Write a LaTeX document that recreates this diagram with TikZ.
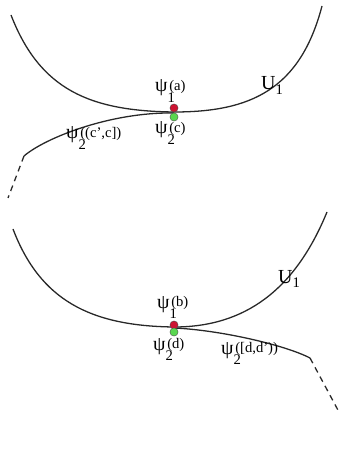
\documentclass[tikz,border=0pt]{standalone}
\usepackage{fontspec}
\setmainfont{Liberation Serif}
\usepackage{tikz}
\definecolor{DotRed}{RGB}{205,20,50}
\definecolor{DotGreen}{RGB}{90,215,80}
\definecolor{CurveGray}{RGB}{40,40,40}
\newcommand{\smallidx}[1]{{\fontsize{12.5}{13}\selectfont #1}}
\newcommand{\psiof}[2]{ψ\makebox[0pt][l]{\raisebox{-0.55em}{\smallidx{#1}}}\kern0.08em\raisebox{0.1em}{\smallidx{#2}}}

\begin{document}
\begin{tikzpicture}[x=0.03cm, y=-0.03cm,
    curve/.style={draw=CurveGray, line width=1.1pt},
    ext/.style={curve, dashed, dash pattern=on 5pt off 4pt},
    dot/.style={circle, draw=black!70, line width=0.3pt, inner sep=0pt, minimum size=7pt},
    lbl/.style={inner sep=0pt, anchor=base west, font=\fontsize{17}{20}\selectfont}
  ]
  \useasboundingbox (0,0) rectangle (339,461);

  % Upper picture
  \coordinate (tl) at (24,156);
  \draw[curve] (11,15) .. controls (40,90) and (90,111) .. (174,112)
               .. controls (250,112) and (300,90) .. (322,6);
  \draw[curve] (tl) .. controls (45,138) and (110,112) .. (174,113);
  \draw[ext] (tl) -- (8,198);

  \node[dot, fill=DotRed]   (pa) at (174,108) {};
  \node[dot, fill=DotGreen] (pc) at (174,117) {};

  \node[lbl] (la)  at (155,92)  {\psiof{1}{(a)}};
  \node[lbl] (lc)  at (155,134) {\psiof{2}{(c)}};
  \node[lbl] (lcc) at (66,139)  {\psiof{2}{((c',c])}};
  \node[lbl] (u1)  at (261,90)  {U\raisebox{-0.25em}{\smallidx{1}}};

  % Lower picture
  \coordinate (tr) at (310,358);
  \draw[curve] (13,229) .. controls (40,300) and (90,326) .. (174,327)
               .. controls (245,327) and (295,290) .. (327,212);
  \draw[curve] (174,328) .. controls (220,330) and (285,345) .. (tr);
  \draw[ext] (tr) -- (339,412);

  \node[dot, fill=DotRed]   (pb) at (174,325) {};
  \node[dot, fill=DotGreen] (pd) at (174,332) {};

  \node[lbl] (lb)  at (157,308) {\psiof{1}{(b)}};
  \node[lbl] (ld)  at (153,350) {\psiof{2}{(d)}};
  \node[lbl] (ldd) at (221,354) {\psiof{2}{([d,d'))}};
  \node[lbl] (u2)  at (278,283) {U\raisebox{-0.25em}{\smallidx{1}}};
\end{tikzpicture}
\end{document}
